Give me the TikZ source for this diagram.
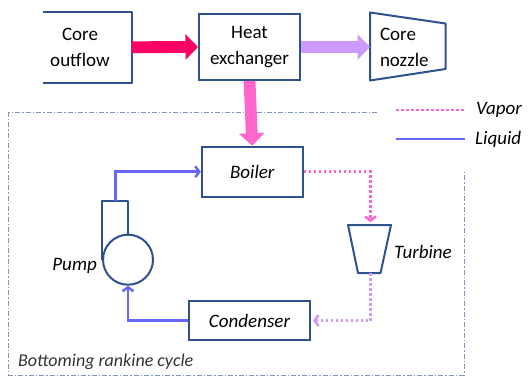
\documentclass[tikz,border=0pt]{standalone}
\usepackage{fontspec}
\setmainfont{Carlito}
\usetikzlibrary{arrows.meta}
\definecolor{edgeblue}{RGB}{47,82,143}
\definecolor{hotred}{RGB}{255,0,102}
\definecolor{lilac}{RGB}{204,153,255}
\definecolor{pinkish}{RGB}{255,102,204}
\definecolor{liqblue}{RGB}{102,102,255}
\definecolor{framegray}{RGB}{128,150,182}
\begin{document}
\begin{tikzpicture}[x=1pt,y=-1pt,
    box/.style={draw=edgeblue,line width=2pt,inner sep=0pt,align=center,font=\fontsize{19}{26}\selectfont},
    shapeline/.style={draw=edgeblue,line width=2pt,line join=round},
    fat/.style={line width=11.8pt,-{Triangle[length=12.5pt,width=25pt]}},
    liquid/.style={liqblue,line width=2.5pt,-{Straight Barb[length=4pt,width=11pt]}},
    vapor/.style={line width=2.5pt,dash pattern=on 2.5pt off 2.5pt,-{Straight Barb[length=4pt,width=11pt]}},
    lbl/.style={inner sep=0pt,font=\fontsize{19}{26}\selectfont\itshape}]
    \useasboundingbox (0,0) rectangle (529,376);
    % top row
    \node (outflow) [box,draw=none,minimum width=87pt,minimum height=69pt] at (87.2,47.2) {};
    \node (outflowtxt) [box,draw=none] at (80,47) {Core\\outflow};
    \draw[shapeline] (outflow.north west) -- (outflow.north east) -- (outflow.south east) -- (outflow.south west);
    \node (hx) [box,minimum width=101pt,minimum height=66pt] at (249.5,47) {Heat\\exchanger};
    \coordinate (nozzleA) at (370,12.5);
    \coordinate (nozzleB) at (445.5,23.5);
    \coordinate (nozzleC) at (445.5,69);
    \coordinate (nozzleD) at (370,80.5);
    \coordinate (nozzlein) at (370,47);
    \draw[shapeline] (nozzleA) -- (nozzleB) -- (nozzleC) -- (nozzleD) -- cycle;
    \node (nozzletxt) [box,draw=none,anchor=west,align=left] at (379,47) {Core\\nozzle};
    \draw[fat,hotred] (outflow.east) -- (hx.west);
    \draw[fat,lilac] (hx.east) -- (nozzlein);
    % rankine loop
    \draw[framegray,line width=0.9pt,dash pattern=on 5pt off 2pt on 1.5pt off 2pt]
        (377,112.8) -- (8.4,112.8) -- (8.4,375) -- (464,375) -- (464,172);
    \node (boiler) [box,minimum width=101pt,minimum height=50pt,font=\fontsize{19}{26}\selectfont\itshape] at (252.3,171.7) {Boiler};
    \node (condenser) [box,minimum width=121pt,minimum height=39pt,font=\fontsize{19}{26}\selectfont\itshape] at (249.5,320.5) {Condenser};
    \draw[fat,pinkish] (hx.south) -- (boiler.north);
    % pump
    \node (pump) [circle,draw=edgeblue,line width=2pt,minimum size=50pt,inner sep=0pt] at (128,259.7) {};
    \coordinate (pumpout) at (115.4,200.5);
    \draw[shapeline] (pump.west) -- (pump.west |- pumpout) -- (pump.north |- pumpout) -- (pump.north);
    \node (pumplbl) [lbl,anchor=east] at (97,266) {Pump};
    % turbine
    \coordinate (turbtl) at (348,225);
    \coordinate (turbtr) at (391,225);
    \coordinate (turbbr) at (380.5,273);
    \coordinate (turbbl) at (358,273);
    \coordinate (turbtop) at (370.5,224);
    \coordinate (turbbot) at (370.5,273);
    \draw[shapeline] (turbtl) -- (turbtr) -- (turbbr) -- (turbbl) -- cycle;
    \node (turblbl) [lbl,anchor=west] at (394,252) {Turbine};
    % flows
    \draw[liquid] (pumpout) |- (boiler.west);
    \draw[vapor,pinkish,shorten >=2pt] (boiler.east) -| (turbtop);
    \draw[vapor,lilac,shorten >=2pt] (turbbot) |- (condenser.east);
    \draw[liquid] (condenser.west) -| (pump.south);
    % legend
    \coordinate (vapA) at (396,110);
    \coordinate (vapB) at (465,110);
    \coordinate (liqA) at (396,139);
    \coordinate (liqB) at (465,139);
    \draw[pinkish,line width=2.5pt,dash pattern=on 2.5pt off 2.5pt] (vapA) -- (vapB);
    \draw[liqblue,line width=2.5pt] (liqA) -- (liqB);
    \node (vaplbl) [lbl,anchor=west] at (476,110) {Vapor};
    \node (liqlbl) [lbl,anchor=west] at (475,139) {Liquid};
    \node (cyclelbl) [lbl,anchor=west,font=\fontsize{18}{22}\selectfont\itshape,text=black!80] at (18,362) {Bottoming rankine cycle};
\end{tikzpicture}
\end{document}
